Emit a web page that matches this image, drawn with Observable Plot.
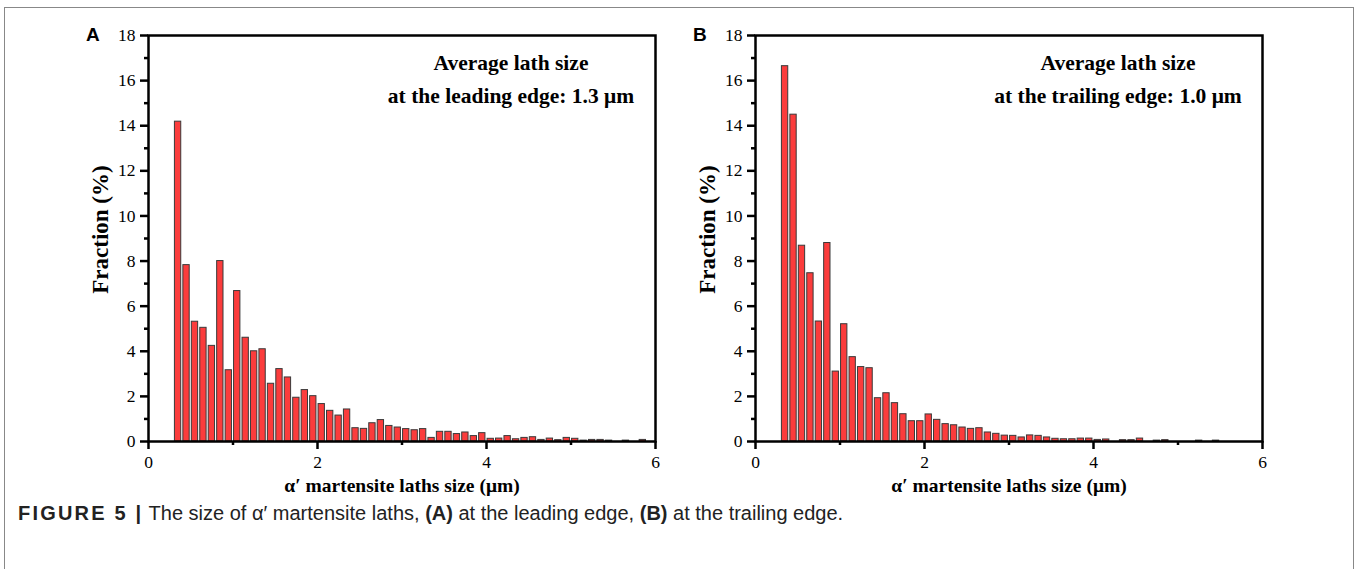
<!DOCTYPE html>
<html><head><meta charset="utf-8">
<script src="https://cdn.jsdelivr.net/npm/d3@7"></script>
<script src="https://cdn.jsdelivr.net/npm/@observablehq/plot@0.6"></script>
<style>
body{margin:0;background:#fff;}
#fig{position:relative;width:1357px;height:569px;overflow:hidden;background:#fff;}
#border{position:absolute;left:4px;top:7px;width:1348px;height:620px;border:1px solid #888;}
.panel{position:absolute;top:10px;}
.panel svg text{font-family:"Liberation Serif","Times New Roman",serif;}
.lab{position:absolute;top:25px;font:bold 19px/1 "Liberation Sans",Arial,sans-serif;color:#000;}
#cap{position:absolute;left:18px;top:501px;font:20px/1.2 "Liberation Sans",Arial,sans-serif;color:#222;white-space:nowrap;}
#cap b.fig{letter-spacing:2.2px;}
</style></head><body>
<div id="fig">
<div id="border"></div>
<div id="pa" class="panel" style="left:60px"></div>
<div id="pb" class="panel" style="left:667px"></div>
<div class="lab" style="left:86px">A</div>
<div class="lab" style="left:693px">B</div>
<div id="cap"><b class="fig">FIGURE 5 |</b> The size of α′ martensite laths, <b>(A)</b> at the leading edge, <b>(B)</b> at the trailing edge.</div>
</div>
<script>
// bin centres (µm)
const binCenters = [0.35,0.45,0.55,0.65,0.75,0.85,0.95,1.05,1.15,1.25,1.35,1.45,1.55,1.65,1.75,1.85,1.95,
  2.05,2.15,2.25,2.35,2.45,2.55,2.65,2.75,2.85,2.95,3.05,3.15,3.25,3.35,3.45,3.55,3.65,3.75,3.85,3.95,
  4.05,4.15,4.25,4.35,4.45,4.55,4.65,4.75,4.85,4.95,5.05,5.15,5.25,5.35,5.45,5.55,5.65,5.75,5.85,5.95];
// Fraction (%) — leading edge (A)
const leadingFraction = [14.18,7.82,5.31,5.04,4.24,8.00,3.16,6.67,4.60,4.00,4.09,2.56,3.21,2.84,1.94,2.28,2.01,
  1.66,1.36,1.15,1.42,0.59,0.56,0.81,0.95,0.69,0.62,0.55,0.50,0.55,0.16,0.43,0.43,0.33,0.40,0.24,0.37,
  0.12,0.13,0.24,0.10,0.16,0.19,0.07,0.13,0.06,0.16,0.12,0.04,0.07,0.07,0.04,0,0.04,0,0.07,0];
// Fraction (%) — trailing edge (B)
const trailingFraction = [16.64,14.49,8.68,7.46,5.32,8.80,3.10,5.20,3.74,3.30,3.25,1.92,2.14,1.70,1.21,0.90,0.90,
  1.20,0.96,0.77,0.72,0.62,0.56,0.59,0.40,0.34,0.26,0.25,0.18,0.27,0.25,0.18,0.12,0.10,0.10,0.13,0.13,
  0.07,0.09,0,0.06,0.06,0.13,0,0.04,0.06,0,0,0,0.04,0,0.04,0,0,0,0,0];
const xMajorTicks = [0,2,4,6];
const xMinorTicks = [1,3,5];
const yMajorTicks = [0,2,4,6,8,10,12,14,16,18];
const yMinorTicks = [1,3,5,7,9,11,13,15,17];
const xTitle = "α′ martensite laths size (μm)";
const yTitle = "Fraction (%)";
const noteA = "Average lath size\nat the leading edge: 1.3 μm";
const noteB = "Average lath size\nat the trailing edge: 1.0 μm";
const binHalf = 0.0375;

function panel(values, note) {
  const data = binCenters.map((c, i) => ({c, v: values[i]})).filter(d => d.v > 0);
  const serif = "'Liberation Serif','Times New Roman',serif";
  return Plot.plot({
    width: 620, height: 500,
    marginLeft: 88, marginRight: 25, marginTop: 25, marginBottom: 69,
    x: {domain: [0, 6]},
    y: {domain: [0, 18]},
    style: {fontFamily: serif, fontSize: "17px", color: "#000", background: "transparent", overflow: "visible"},
    marks: [
      Plot.rect(data, {x1: d => d.c - binHalf, x2: d => d.c + binHalf, y1: 0, y2: "v",
        fill: "#fb3c3c", stroke: "#3a3a3a", strokeWidth: 1}),
      Plot.frame({stroke: "#000", strokeWidth: 2.5}),
      Plot.axisY({ticks: yMajorTicks, tickSize: 8, tickPadding: 5, tickFormat: d => String(d), strokeWidth: 2.5, label: null, fontSize: 17.5, fontFamily: serif}),
      Plot.axisY({ticks: yMinorTicks, tickSize: 4, tickFormat: () => "", strokeWidth: 2.5, label: null}),
      Plot.axisX({ticks: xMajorTicks, tickSize: 8, tickPadding: 6, tickFormat: d => String(d), strokeWidth: 2.5, label: null, fontSize: 17.5, fontFamily: serif}),
      Plot.axisX({ticks: xMinorTicks, tickSize: 4, tickFormat: () => "", strokeWidth: 2.5, label: null}),
      Plot.text([xTitle], {text: d => d, frameAnchor: "bottom", dy: 50, fontWeight: "bold", fontSize: 19.5, fill: "#000"}),
      Plot.text([yTitle], {text: d => d, frameAnchor: "left", textAnchor: "middle", rotate: -90, dx: -48, dy: -9, fontWeight: "bold", fontSize: 23, fill: "#000"}),
      Plot.text([note], {text: d => d, frameAnchor: "top", dx: 109, dy: 11, lineHeight: 1.55, fontWeight: "bold", fontSize: 21.5, fill: "#000"})
    ]
  });
}
document.getElementById("pa").append(panel(leadingFraction, noteA));
document.getElementById("pb").append(panel(trailingFraction, noteB));
</script>
</body></html>
